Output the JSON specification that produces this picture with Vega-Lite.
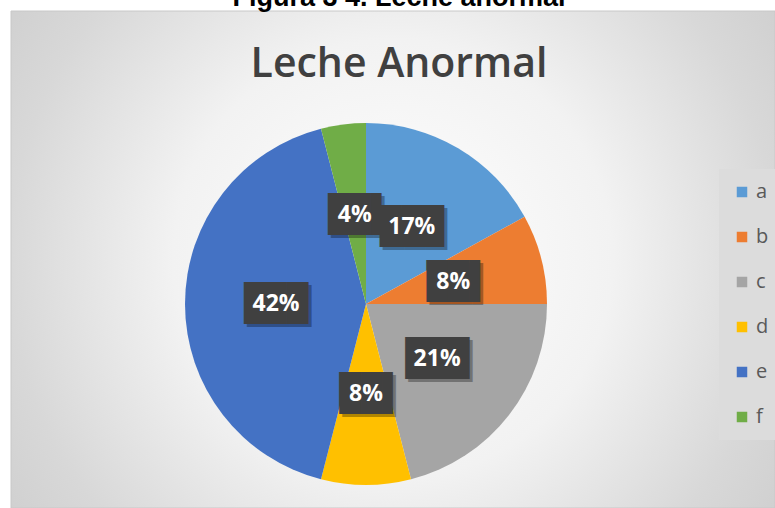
{
  "$schema": "https://vega.github.io/schema/vega-lite/v6.json",
  "autosize": "none",
  "width": 362,
  "height": 362,
  "padding": {"left": 185, "top": 123, "right": 228, "bottom": 23},
  "background": "#ffffff",
  "title": {
    "text": "Figura 3 4. Leche anormal",
    "subtitle": "Leche Anormal",
    "anchor": "middle",
    "dx": 33,
    "offset": -75,
    "zindex": 1,
    "font": "Liberation Sans",
    "fontSize": 27,
    "fontWeight": "bold",
    "color": "#000000",
    "subtitleFont": "Open Sans",
    "subtitleFontSize": 41,
    "subtitleFontWeight": 600,
    "subtitleColor": "#404040",
    "subtitlePadding": 33
  },
  "data": {
    "values": [
      {"cat": "a", "value": 17, "label": "17%"},
      {"cat": "b", "value": 8, "label": "8%"},
      {"cat": "c", "value": 21, "label": "21%"},
      {"cat": "d", "value": 8, "label": "8%"},
      {"cat": "e", "value": 42, "label": "42%"},
      {"cat": "f", "value": 4, "label": "4%"}
    ]
  },
  "layer": [
    {
      "data": {"values": [{}]},
      "mark": {
        "type": "rect",
        "x": -174, "x2": 590, "y": -112, "y2": 385,
        "fill": {
          "gradient": "radial",
          "x1": 0.5, "y1": 0.5, "r1": 0,
          "x2": 0.5, "y2": 0.5, "r2": 0.72,
          "stops": [
            {"offset": 0, "color": "#ffffff"},
            {"offset": 0.4, "color": "#f2f2f2"},
            {"offset": 0.7, "color": "#d8d8d8"},
            {"offset": 1, "color": "#c6c6c6"}
          ]
        },
        "stroke": "#c8c8c8",
        "strokeWidth": 1
      },
      "encoding": {}
    },
    {
      "mark": {"type": "arc"},
      "encoding": {
        "theta": {"field": "value", "type": "quantitative", "stack": true},
        "order": {"field": "cat", "type": "ordinal"},
        "color": {
          "field": "cat",
          "type": "nominal",
          "scale": {
            "domain": ["a", "b", "c", "d", "e", "f"],
            "range": ["#5B9BD5", "#ED7D31", "#A5A5A5", "#FFC000", "#4472C4", "#70AD47"]
          },
          "legend": {
            "orient": "none",
            "legendX": 534,
            "legendY": 46,
            "title": null,
            "symbolType": "square",
            "symbolSize": 110,
            "symbolStrokeWidth": 0,
            "labelFont": "Open Sans",
            "labelFontSize": 20,
            "labelColor": "#595959",
            "labelOffset": 4,
            "rowPadding": 25,
            "padding": 13,
            "fillColor": "#dcdcdc"
          }
        }
      }
    },
    {
      "mark": {"type": "text", "radius": 90, "font": "DejaVu Sans Mono", "fontSize": 35.4, "color": "#000000", "opacity": 0.3, "dx": 3, "dy": 3, "align": "center", "baseline": "middle"},
      "encoding": {
        "theta": {"field": "value", "type": "quantitative", "stack": true},
        "order": {"field": "cat", "type": "ordinal"},
        "detail": {"field": "cat", "type": "nominal"},
        "text": {"condition": {"test": "length(datum.label) > 2", "value": "███"}, "value": ""}
      }
    },
    {
      "mark": {"type": "text", "radius": 90, "font": "DejaVu Sans Mono", "fontSize": 35.4, "color": "#000000", "opacity": 0.3, "dx": 8.3, "dy": 3, "align": "center", "baseline": "middle"},
      "encoding": {
        "theta": {"field": "value", "type": "quantitative", "stack": true},
        "order": {"field": "cat", "type": "ordinal"},
        "detail": {"field": "cat", "type": "nominal"},
        "text": {"condition": {"test": "length(datum.label) <= 2", "value": "██▌"}, "value": ""}
      }
    },
    {
      "mark": {"type": "text", "radius": 90, "font": "DejaVu Sans Mono", "fontSize": 35.4, "color": "#404040", "align": "center", "baseline": "middle"},
      "encoding": {
        "theta": {"field": "value", "type": "quantitative", "stack": true},
        "order": {"field": "cat", "type": "ordinal"},
        "detail": {"field": "cat", "type": "nominal"},
        "text": {"condition": {"test": "length(datum.label) > 2", "value": "███"}, "value": ""}
      }
    },
    {
      "mark": {"type": "text", "radius": 90, "font": "DejaVu Sans Mono", "fontSize": 35.4, "color": "#404040", "dx": 5.3, "align": "center", "baseline": "middle"},
      "encoding": {
        "theta": {"field": "value", "type": "quantitative", "stack": true},
        "order": {"field": "cat", "type": "ordinal"},
        "detail": {"field": "cat", "type": "nominal"},
        "text": {"condition": {"test": "length(datum.label) <= 2", "value": "██▌"}, "value": ""}
      }
    },
    {
      "mark": {"type": "text", "radius": 90, "font": "Open Sans", "fontSize": 23, "fontWeight": "bold", "color": "#ffffff", "align": "center", "baseline": "middle"},
      "encoding": {
        "theta": {"field": "value", "type": "quantitative", "stack": true},
        "order": {"field": "cat", "type": "ordinal"},
        "detail": {"field": "cat", "type": "nominal"},
        "text": {"field": "label", "type": "nominal"}
      }
    }
  ],
  "config": {
    "view": {"stroke": null}
  }
}
